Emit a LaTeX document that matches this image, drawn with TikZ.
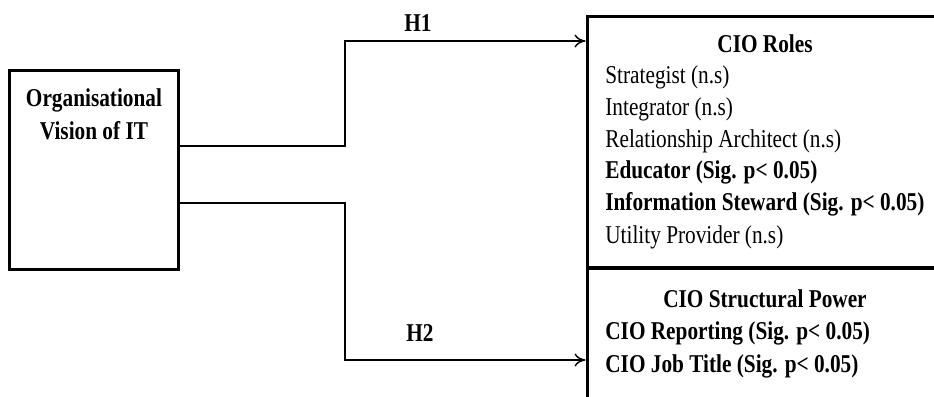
\documentclass[tikz,border=0pt]{standalone}
\usepackage{fontspec}
\setmainfont{Liberation Serif}[FakeStretch=0.83]
\usetikzlibrary{arrows.meta,positioning,calc}

\begin{document}
\begin{tikzpicture}[
    x=0.02cm, y=0.02cm,
    thickbox/.style={rectangle, draw, line width=1.7pt, inner sep=0pt},
    txt/.style={font=\fontsize{14.6}{18}\selectfont, inner sep=0pt},
    boldtxt/.style={txt, font=\fontsize{14.6}{18}\selectfont\bfseries},
    arrow/.style={-{To[length=2.2mm, width=2.6mm]}, line width=0.8pt}
]
\useasboundingbox (0,0) rectangle (934,396);
\clip (0,0) rectangle (934,396);

% Boxes
\node[thickbox, minimum width=3.4cm, minimum height=4cm] (vision) at (94,226) {};
\node[thickbox, minimum width=8.26cm, minimum height=5.04cm] (roles) at (793.5,254) {};
\node[thickbox, minimum width=8.26cm, minimum height=3.64cm] (power) at (793.5,37) {};

% Vision text
\node[boldtxt, anchor=base] (org) at (94,289) {Organisational};
\node[boldtxt, anchor=base] (vis) at (94,256) {Vision of IT};

% Hypotheses
\coordinate (h1turn) at (345,355);
\coordinate (h2turn) at (345,36);
\draw[arrow] ($(vision.east)+(0,24)$) -| (h1turn) -- (h1turn -| roles.west);
\draw[arrow] ($(vision.east)+(0,-33)$) -| (h2turn) -- (h2turn -| power.west);
\node[boldtxt, anchor=base] (h1) at (418,364) {H1};
\node[boldtxt, anchor=base] (h2) at (420,54) {H2};

% CIO Roles
\node[boldtxt, anchor=base] (rolestitle) at (765,343) {CIO Roles};
\node[txt, anchor=base west] (r1) at (605,312) {Strategist (n.s)};
\node[txt, anchor=base west] (r2) at (605,280.3) {Integrator (n.s)};
\node[txt, anchor=base west] (r3) at (605,248.6) {Relationship Architect (n.s)};
\node[boldtxt, anchor=base west] (r4) at (605,217) {Educator (Sig. p< 0.05)};
\node[boldtxt, anchor=base west] (r5) at (605,185) {Information Steward (Sig. p< 0.05)};
\node[txt, anchor=base west] (r6) at (605,153) {Utility Provider (n.s)};

% CIO Structural Power
\node[boldtxt, anchor=base] (powertitle) at (765,89) {CIO Structural Power};
\node[boldtxt, anchor=base west] (p1) at (605,56) {CIO Reporting (Sig. p< 0.05)};
\node[boldtxt, anchor=base west] (p2) at (605,24) {CIO Job Title (Sig. p< 0.05)};

\end{tikzpicture}
\end{document}
